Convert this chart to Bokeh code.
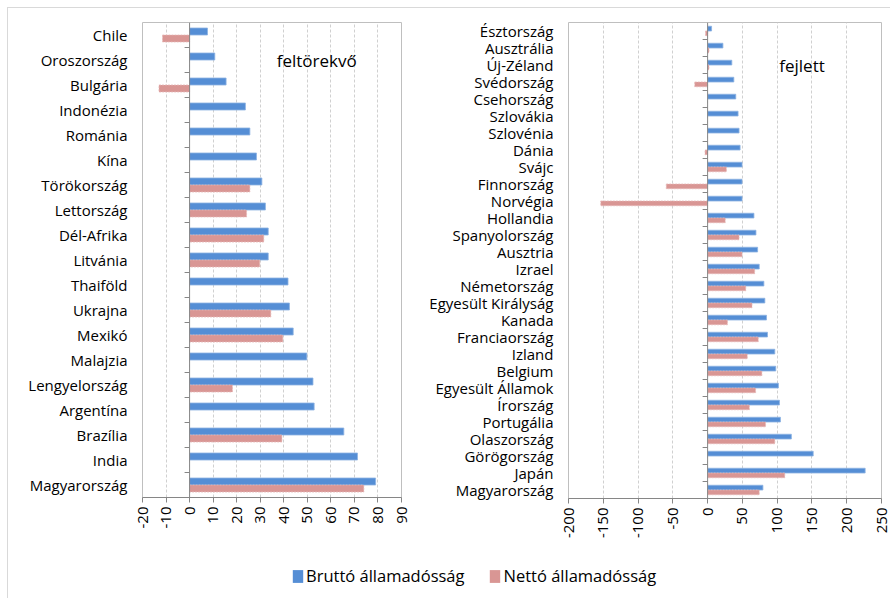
from bokeh.plotting import figure
from bokeh.models import (ColumnDataSource, FactorRange, Range1d, FixedTicker, Span,
                          Legend, LegendItem)
from bokeh.transform import dodge
from bokeh.layouts import row, column
from bokeh.core.properties import value
from bokeh.embed import file_html
from bokeh.resources import INLINE

# ---------------- data ----------------
emerging = ["Chile", "Oroszország", "Bulgária", "Indonézia", "Románia", "Kína",
            "Törökország", "Lettország", "Dél-Afrika", "Litvánia", "Thaiföld",
            "Ukrajna", "Mexikó", "Malajzia", "Lengyelország", "Argentína",
            "Brazília", "India", "Magyarország"]
emerging_gross = [7.6, 10.7, 15.5, 23.7, 25.6, 28.4, 30.7, 32.2, 33.4, 33.4, 41.8,
                  42.4, 44.0, 49.8, 52.4, 52.9, 65.5, 71.3, 79.0]
emerging_net = [-11.5, None, -13.0, None, None, None, 25.6, 24.2, 31.5, 29.8, None,
                34.5, 39.6, None, 18.2, None, 39.2, None, 74.0]

developed = ["Észtország", "Ausztrália", "Új-Zéland", "Svédország", "Csehország",
             "Szlovákia", "Szlovénia", "Dánia", "Svájc", "Finnország", "Norvégia",
             "Hollandia", "Spanyolország", "Ausztria", "Izrael", "Németország",
             "Egyesült Királyság", "Kanada", "Franciaország", "Izland", "Belgium",
             "Egyesült Államok", "Írország", "Portugália", "Olaszország",
             "Görögország", "Japán", "Magyarország"]
developed_gross = [5.7, 22.0, 34.8, 37.7, 40.5, 43.8, 45.2, 46.7, 49.5, 49.5, 49.5,
                   66.6, 69.5, 71.9, 74.2, 80.9, 82.3, 84.7, 86.1, 96.6, 98.0,
                   101.8, 103.3, 104.7, 120.4, 151.8, 226.5, 79.5]
developed_net = [-3.0, 2.0, 2.0, -18.5, None, None, None, -3.7, 27.0, -59.4, -153.6,
                 25.3, 45.2, 49.5, 67.6, 54.8, 63.8, 28.5, 72.8, 57.0, 78.0,
                 69.0, 60.0, 83.3, 96.6, None, 110.9, 74.2]

left_ticks = [-20, -10, 0, 10, 20, 30, 40, 50, 60, 70, 80, 90]
right_ticks = [-200, -150, -100, -50, 0, 50, 100, 150, 200, 250]

series_names = ["Bruttó államadósság", "Nettó államadósság"]
panel_titles = ["feltörekvő", "fejlett"]

# ---------------- styles ----------------
BLUE = "#558ED5"
PINK = "#D99694"
FONT = "Open Sans"
GRID = "#D0D0D0"
AXIS = "#868686"
FRAME = "#BFBFBF"


def panel(countries, gross, net, ticks, title, title_x, title_row,
          width, frame_w, frame_h, b_left, b_right, b_top, b_bottom):
    p = figure(width=width, height=b_top + frame_h + b_bottom,
               frame_width=frame_w, frame_height=frame_h,
               y_range=FactorRange(factors=list(reversed(countries))),
               x_range=Range1d(ticks[0], ticks[-1]),
               output_backend="svg", toolbar_location=None,
               min_border_left=b_left, min_border_right=b_right,
               min_border_top=b_top, min_border_bottom=b_bottom)
    p.outline_line_color = FRAME
    p.outline_line_width = 1
    p.background_fill_color = "white"
    p.border_fill_color = "white"

    src_g = ColumnDataSource(dict(country=countries, val=gross))
    nc = [c for c, v in zip(countries, net) if v is not None]
    nv = [v for v in net if v is not None]
    src_n = ColumnDataSource(dict(country=nc, val=nv))

    p.hbar(y=dodge("country", 0.14, range=p.y_range), left=0, right="val",
           height=0.28, source=src_g, fill_color=BLUE, line_color="#8DB3E2",
           line_width=0.8)
    p.hbar(y=dodge("country", -0.14, range=p.y_range), left=0, right="val",
           height=0.28, source=src_n, fill_color=PINK, line_color="#E6B9B8",
           line_width=0.8, line_dash="2 1")

    # vertical category axis at zero
    p.add_layout(Span(location=0, dimension="height", line_color=AXIS, line_width=1))
    tick_len = 5 * (ticks[-1] - ticks[0]) / frame_w
    src_t = ColumnDataSource(dict(country=countries[:-1]))
    p.segment(x0=-tick_len, x1=0, y0=dodge("country", -0.5, range=p.y_range),
              y1=dodge("country", -0.5, range=p.y_range), source=src_t,
              line_color=AXIS, line_width=1)

    p.text(x=[title_x], y=[title_row], text=[title], text_font=value(FONT),
           text_font_size="17px", text_baseline="middle", text_align="left",
           text_color="black")

    # axes
    p.xaxis.ticker = FixedTicker(ticks=ticks)
    p.xaxis.major_label_overrides = {t: str(t) for t in ticks}
    p.xaxis.major_label_orientation = 1.5707963
    p.xaxis.axis_line_color = AXIS
    p.xaxis.major_tick_line_color = AXIS
    p.xaxis.major_tick_out = 5
    p.xaxis.major_tick_in = 0
    p.xaxis.minor_tick_line_color = None
    p.xaxis.major_label_text_font = FONT
    p.xaxis.major_label_text_font_size = "15px"
    p.xaxis.major_label_text_color = "black"
    p.xaxis.major_label_standoff = 4

    p.yaxis.axis_line_color = None
    p.yaxis.major_tick_line_color = None
    p.yaxis.major_tick_out = 0
    p.yaxis.major_tick_in = 0
    p.yaxis.major_label_text_font = FONT
    p.yaxis.major_label_text_font_size = "15px"
    p.yaxis.major_label_text_color = "black"
    p.yaxis.major_label_standoff = 15

    p.xgrid.grid_line_color = GRID
    p.xgrid.grid_line_dash = "3 2"
    p.xgrid.ticker = FixedTicker(ticks=ticks)
    p.ygrid.grid_line_color = None
    return p


# page offset: layout starts at (8, 8) via the wrapper margin+border
p1 = panel(emerging, emerging_gross, emerging_net, left_ticks, panel_titles[0],
           37, "Oroszország", 412, 259, 475, 134, 19, 14, 61)
p2 = panel(developed, developed_gross, developed_net, right_ticks, panel_titles[1],
           103, "Új-Zéland", 470, 313, 476, 148, 9, 11, 63)

# legend strip
p3 = figure(width=882, height=40, x_range=Range1d(0, 1), y_range=Range1d(0, 1),
            output_backend="svg", toolbar_location=None,
            min_border_left=0, min_border_right=0, min_border_top=0, min_border_bottom=0)
p3.axis.visible = False
p3.grid.visible = False
p3.outline_line_color = None
dummy = ColumnDataSource(dict(x=[0, 0, 0], y=[0, 0, 0]))
r1 = p3.patch(x="x", y="y", source=dummy, fill_color=BLUE, line_color=None)
r2 = p3.patch(x="x", y="y", source=dummy, fill_color=PINK, line_color=None)
legend = Legend(items=[LegendItem(label=series_names[0], renderers=[r1]),
                       LegendItem(label=series_names[1], renderers=[r2])],
                orientation="horizontal", location=(283, 11),
                glyph_width=13, glyph_height=16, label_standoff=2, spacing=24,
                padding=0, margin=0, border_line_color=None,
                background_fill_alpha=0,
                label_text_font=FONT, label_text_font_size="16.5px",
                label_text_color="black")
p3.add_layout(legend, "center")

layout = column(row(p1, p2), p3,
                styles={"margin-left": "7px", "margin-top": "7px",
                        "border-left": "1px solid #D9D9D9",
                        "border-top": "1px solid #D9D9D9"})

open("out.html", "w").write(file_html(layout, INLINE))
